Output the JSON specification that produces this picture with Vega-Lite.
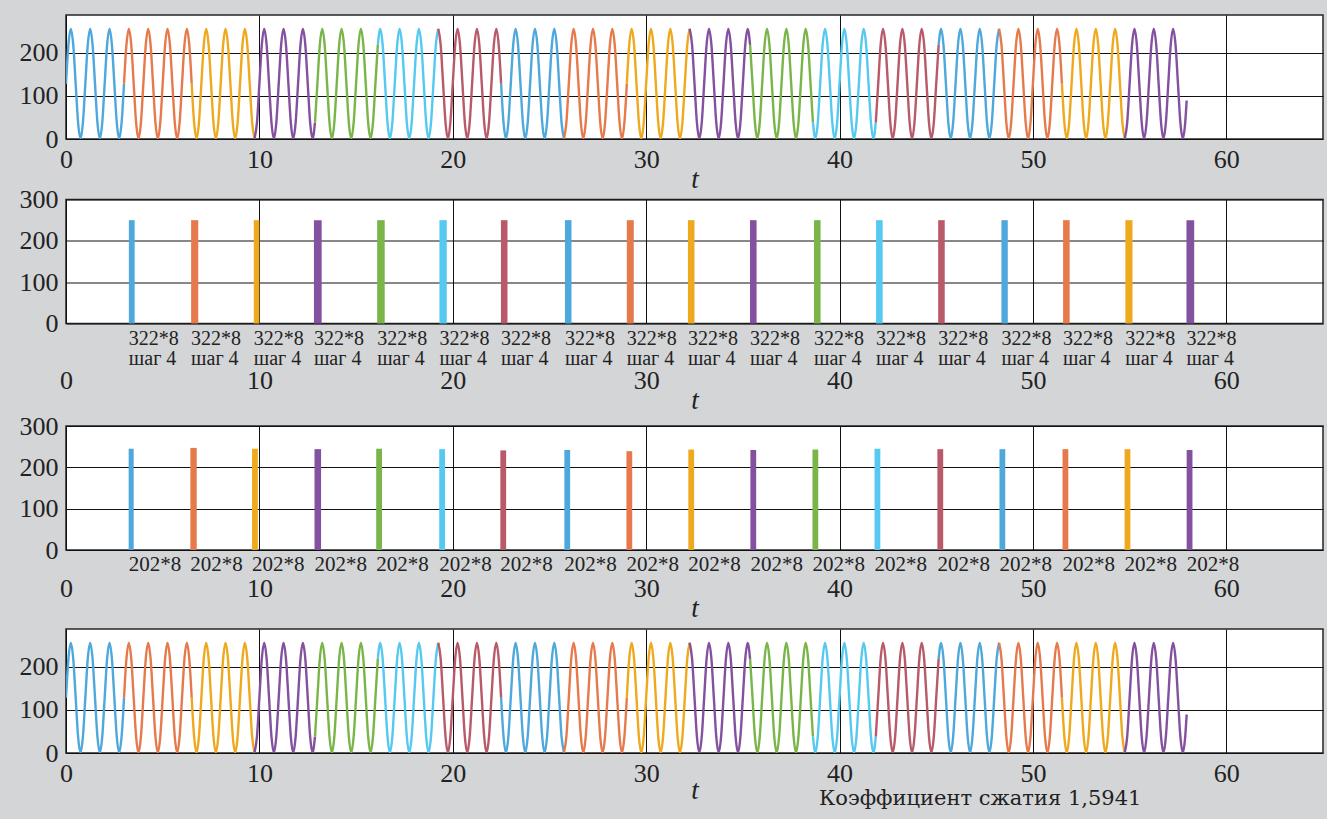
{
"$schema": "https://vega.github.io/schema/vega-lite/v6.json",
"background": "#d4d5d7",
"padding": {"left": 18, "top": 14, "right": 5, "bottom": 16},
"config": {
 "view": {"fill": "white", "stroke": "#262626", "strokeWidth": 1.5},
 "font": "Liberation Serif",
 "axis": {"grid": true, "gridColor": "#111111", "gridWidth": 1, "gridOpacity": 1, "ticks": false, "domain": false,
  "labelFont": "Liberation Serif", "labelFontSize": 26, "labelColor": "#222222", "labelFlush": false, "labelOverlap": false,
  "titleFont": "Liberation Serif", "titleFontStyle": "italic", "titleFontWeight": "normal", "titleFontSize": 27, "titleColor": "#222222"}
},
"datasets": {
 "sig": [
{"t":0,"v":128,"s":0},{"t":0.125,"v":218,"s":0},{"t":0.25,"v":255,"s":0},{"t":0.375,"v":218,"s":0},{"t":0.5,"v":128,"s":0},{"t":0.625,"v":38,"s":0},{"t":0.75,"v":1,"s":0},{"t":0.875,"v":38,"s":0},
{"t":1,"v":128,"s":0},{"t":1.125,"v":218,"s":0},{"t":1.25,"v":255,"s":0},{"t":1.375,"v":218,"s":0},{"t":1.5,"v":128,"s":0},{"t":1.625,"v":38,"s":0},{"t":1.75,"v":1,"s":0},{"t":1.875,"v":38,"s":0},
{"t":2,"v":128,"s":0},{"t":2.125,"v":218,"s":0},{"t":2.25,"v":255,"s":0},{"t":2.375,"v":218,"s":0},{"t":2.5,"v":128,"s":0},{"t":2.625,"v":38,"s":0},{"t":2.75,"v":1,"s":0},{"t":2.875,"v":38,"s":0},
{"t":3,"v":128,"s":0},
{"t":3,"v":128,"s":1},{"t":3.125,"v":218,"s":1},{"t":3.25,"v":255,"s":1},{"t":3.375,"v":218,"s":1},{"t":3.5,"v":128,"s":1},{"t":3.625,"v":38,"s":1},{"t":3.75,"v":1,"s":1},{"t":3.875,"v":38,"s":1},
{"t":4,"v":128,"s":1},{"t":4.125,"v":218,"s":1},{"t":4.25,"v":255,"s":1},{"t":4.375,"v":218,"s":1},{"t":4.5,"v":128,"s":1},{"t":4.625,"v":38,"s":1},{"t":4.75,"v":1,"s":1},{"t":4.875,"v":38,"s":1},
{"t":5,"v":128,"s":1},{"t":5.125,"v":218,"s":1},{"t":5.25,"v":255,"s":1},{"t":5.375,"v":218,"s":1},{"t":5.5,"v":128,"s":1},{"t":5.625,"v":38,"s":1},{"t":5.75,"v":1,"s":1},{"t":5.875,"v":38,"s":1},
{"t":6,"v":128,"s":1},{"t":6.125,"v":218,"s":1},{"t":6.25,"v":255,"s":1},{"t":6.375,"v":218,"s":1},{"t":6.5,"v":128,"s":1},
{"t":6.5,"v":128,"s":2},{"t":6.625,"v":38,"s":2},{"t":6.75,"v":1,"s":2},{"t":6.875,"v":38,"s":2},
{"t":7,"v":128,"s":2},{"t":7.125,"v":218,"s":2},{"t":7.25,"v":255,"s":2},{"t":7.375,"v":218,"s":2},{"t":7.5,"v":128,"s":2},{"t":7.625,"v":38,"s":2},{"t":7.75,"v":1,"s":2},{"t":7.875,"v":38,"s":2},
{"t":8,"v":128,"s":2},{"t":8.125,"v":218,"s":2},{"t":8.25,"v":255,"s":2},{"t":8.375,"v":218,"s":2},{"t":8.5,"v":128,"s":2},{"t":8.625,"v":38,"s":2},{"t":8.75,"v":1,"s":2},{"t":8.875,"v":38,"s":2},
{"t":9,"v":128,"s":2},{"t":9.125,"v":218,"s":2},{"t":9.25,"v":255,"s":2},{"t":9.375,"v":218,"s":2},{"t":9.5,"v":128,"s":2},{"t":9.625,"v":38,"s":2},{"t":9.75,"v":1,"s":2},
{"t":9.75,"v":1,"s":3},{"t":9.875,"v":38,"s":3},
{"t":10,"v":128,"s":3},{"t":10.125,"v":218,"s":3},{"t":10.25,"v":255,"s":3},{"t":10.375,"v":218,"s":3},{"t":10.5,"v":128,"s":3},{"t":10.625,"v":38,"s":3},{"t":10.75,"v":1,"s":3},{"t":10.875,"v":38,"s":3},
{"t":11,"v":128,"s":3},{"t":11.125,"v":218,"s":3},{"t":11.25,"v":255,"s":3},{"t":11.375,"v":218,"s":3},{"t":11.5,"v":128,"s":3},{"t":11.625,"v":38,"s":3},{"t":11.75,"v":1,"s":3},{"t":11.875,"v":38,"s":3},
{"t":12,"v":128,"s":3},{"t":12.125,"v":218,"s":3},{"t":12.25,"v":255,"s":3},{"t":12.375,"v":218,"s":3},{"t":12.5,"v":128,"s":3},{"t":12.625,"v":38,"s":3},{"t":12.75,"v":1,"s":3},{"t":12.875,"v":38,"s":3},
{"t":12.875,"v":38,"s":4},
{"t":13,"v":128,"s":4},{"t":13.125,"v":218,"s":4},{"t":13.25,"v":255,"s":4},{"t":13.375,"v":218,"s":4},{"t":13.5,"v":128,"s":4},{"t":13.625,"v":38,"s":4},{"t":13.75,"v":1,"s":4},{"t":13.875,"v":38,"s":4},
{"t":14,"v":128,"s":4},{"t":14.125,"v":218,"s":4},{"t":14.25,"v":255,"s":4},{"t":14.375,"v":218,"s":4},{"t":14.5,"v":128,"s":4},{"t":14.625,"v":38,"s":4},{"t":14.75,"v":1,"s":4},{"t":14.875,"v":38,"s":4},
{"t":15,"v":128,"s":4},{"t":15.125,"v":218,"s":4},{"t":15.25,"v":255,"s":4},{"t":15.375,"v":218,"s":4},{"t":15.5,"v":128,"s":4},{"t":15.625,"v":38,"s":4},{"t":15.75,"v":1,"s":4},{"t":15.875,"v":38,"s":4},
{"t":16,"v":128,"s":4},{"t":16.125,"v":218,"s":4},
{"t":16.125,"v":218,"s":5},{"t":16.25,"v":255,"s":5},{"t":16.375,"v":218,"s":5},{"t":16.5,"v":128,"s":5},{"t":16.625,"v":38,"s":5},{"t":16.75,"v":1,"s":5},{"t":16.875,"v":38,"s":5},
{"t":17,"v":128,"s":5},{"t":17.125,"v":218,"s":5},{"t":17.25,"v":255,"s":5},{"t":17.375,"v":218,"s":5},{"t":17.5,"v":128,"s":5},{"t":17.625,"v":38,"s":5},{"t":17.75,"v":1,"s":5},{"t":17.875,"v":38,"s":5},
{"t":18,"v":128,"s":5},{"t":18.125,"v":218,"s":5},{"t":18.25,"v":255,"s":5},{"t":18.375,"v":218,"s":5},{"t":18.5,"v":128,"s":5},{"t":18.625,"v":38,"s":5},{"t":18.75,"v":1,"s":5},{"t":18.875,"v":38,"s":5},
{"t":19,"v":128,"s":5},{"t":19.125,"v":218,"s":5},{"t":19.25,"v":255,"s":5},
{"t":19.25,"v":255,"s":6},{"t":19.375,"v":218,"s":6},{"t":19.5,"v":128,"s":6},{"t":19.625,"v":38,"s":6},{"t":19.75,"v":1,"s":6},{"t":19.875,"v":38,"s":6},
{"t":20,"v":128,"s":6},{"t":20.125,"v":218,"s":6},{"t":20.25,"v":255,"s":6},{"t":20.375,"v":218,"s":6},{"t":20.5,"v":128,"s":6},{"t":20.625,"v":38,"s":6},{"t":20.75,"v":1,"s":6},{"t":20.875,"v":38,"s":6},
{"t":21,"v":128,"s":6},{"t":21.125,"v":218,"s":6},{"t":21.25,"v":255,"s":6},{"t":21.375,"v":218,"s":6},{"t":21.5,"v":128,"s":6},{"t":21.625,"v":38,"s":6},{"t":21.75,"v":1,"s":6},{"t":21.875,"v":38,"s":6},
{"t":22,"v":128,"s":6},{"t":22.125,"v":218,"s":6},{"t":22.25,"v":255,"s":6},{"t":22.375,"v":218,"s":6},{"t":22.5,"v":128,"s":6},
{"t":22.5,"v":128,"s":7},{"t":22.625,"v":38,"s":7},{"t":22.75,"v":1,"s":7},{"t":22.875,"v":38,"s":7},
{"t":23,"v":128,"s":7},{"t":23.125,"v":218,"s":7},{"t":23.25,"v":255,"s":7},{"t":23.375,"v":218,"s":7},{"t":23.5,"v":128,"s":7},{"t":23.625,"v":38,"s":7},{"t":23.75,"v":1,"s":7},{"t":23.875,"v":38,"s":7},
{"t":24,"v":128,"s":7},{"t":24.125,"v":218,"s":7},{"t":24.25,"v":255,"s":7},{"t":24.375,"v":218,"s":7},{"t":24.5,"v":128,"s":7},{"t":24.625,"v":38,"s":7},{"t":24.75,"v":1,"s":7},{"t":24.875,"v":38,"s":7},
{"t":25,"v":128,"s":7},{"t":25.125,"v":218,"s":7},{"t":25.25,"v":255,"s":7},{"t":25.375,"v":218,"s":7},{"t":25.5,"v":128,"s":7},{"t":25.625,"v":38,"s":7},{"t":25.75,"v":1,"s":7},
{"t":25.75,"v":1,"s":8},{"t":25.875,"v":38,"s":8},
{"t":26,"v":128,"s":8},{"t":26.125,"v":218,"s":8},{"t":26.25,"v":255,"s":8},{"t":26.375,"v":218,"s":8},{"t":26.5,"v":128,"s":8},{"t":26.625,"v":38,"s":8},{"t":26.75,"v":1,"s":8},{"t":26.875,"v":38,"s":8},
{"t":27,"v":128,"s":8},{"t":27.125,"v":218,"s":8},{"t":27.25,"v":255,"s":8},{"t":27.375,"v":218,"s":8},{"t":27.5,"v":128,"s":8},{"t":27.625,"v":38,"s":8},{"t":27.75,"v":1,"s":8},{"t":27.875,"v":38,"s":8},
{"t":28,"v":128,"s":8},{"t":28.125,"v":218,"s":8},{"t":28.25,"v":255,"s":8},{"t":28.375,"v":218,"s":8},{"t":28.5,"v":128,"s":8},{"t":28.625,"v":38,"s":8},{"t":28.75,"v":1,"s":8},{"t":28.875,"v":38,"s":8},
{"t":29,"v":128,"s":8},
{"t":29,"v":128,"s":9},{"t":29.125,"v":218,"s":9},{"t":29.25,"v":255,"s":9},{"t":29.375,"v":218,"s":9},{"t":29.5,"v":128,"s":9},{"t":29.625,"v":38,"s":9},{"t":29.75,"v":1,"s":9},{"t":29.875,"v":38,"s":9},
{"t":30,"v":128,"s":9},{"t":30.125,"v":218,"s":9},{"t":30.25,"v":255,"s":9},{"t":30.375,"v":218,"s":9},{"t":30.5,"v":128,"s":9},{"t":30.625,"v":38,"s":9},{"t":30.75,"v":1,"s":9},{"t":30.875,"v":38,"s":9},
{"t":31,"v":128,"s":9},{"t":31.125,"v":218,"s":9},{"t":31.25,"v":255,"s":9},{"t":31.375,"v":218,"s":9},{"t":31.5,"v":128,"s":9},{"t":31.625,"v":38,"s":9},{"t":31.75,"v":1,"s":9},{"t":31.875,"v":38,"s":9},
{"t":32,"v":128,"s":9},{"t":32.125,"v":218,"s":9},{"t":32.25,"v":255,"s":9},
{"t":32.25,"v":255,"s":10},{"t":32.375,"v":218,"s":10},{"t":32.5,"v":128,"s":10},{"t":32.625,"v":38,"s":10},{"t":32.75,"v":1,"s":10},{"t":32.875,"v":38,"s":10},
{"t":33,"v":128,"s":10},{"t":33.125,"v":218,"s":10},{"t":33.25,"v":255,"s":10},{"t":33.375,"v":218,"s":10},{"t":33.5,"v":128,"s":10},{"t":33.625,"v":38,"s":10},{"t":33.75,"v":1,"s":10},{"t":33.875,"v":38,"s":10},
{"t":34,"v":128,"s":10},{"t":34.125,"v":218,"s":10},{"t":34.25,"v":255,"s":10},{"t":34.375,"v":218,"s":10},{"t":34.5,"v":128,"s":10},{"t":34.625,"v":38,"s":10},{"t":34.75,"v":1,"s":10},{"t":34.875,"v":38,"s":10},
{"t":35,"v":128,"s":10},{"t":35.125,"v":218,"s":10},{"t":35.25,"v":255,"s":10},{"t":35.375,"v":218,"s":10},
{"t":35.375,"v":218,"s":11},{"t":35.5,"v":128,"s":11},{"t":35.625,"v":38,"s":11},{"t":35.75,"v":1,"s":11},{"t":35.875,"v":38,"s":11},
{"t":36,"v":128,"s":11},{"t":36.125,"v":218,"s":11},{"t":36.25,"v":255,"s":11},{"t":36.375,"v":218,"s":11},{"t":36.5,"v":128,"s":11},{"t":36.625,"v":38,"s":11},{"t":36.75,"v":1,"s":11},{"t":36.875,"v":38,"s":11},
{"t":37,"v":128,"s":11},{"t":37.125,"v":218,"s":11},{"t":37.25,"v":255,"s":11},{"t":37.375,"v":218,"s":11},{"t":37.5,"v":128,"s":11},{"t":37.625,"v":38,"s":11},{"t":37.75,"v":1,"s":11},{"t":37.875,"v":38,"s":11},
{"t":38,"v":128,"s":11},{"t":38.125,"v":218,"s":11},{"t":38.25,"v":255,"s":11},{"t":38.375,"v":218,"s":11},{"t":38.5,"v":128,"s":11},{"t":38.625,"v":38,"s":11},
{"t":38.625,"v":38,"s":12},{"t":38.75,"v":1,"s":12},{"t":38.875,"v":38,"s":12},
{"t":39,"v":128,"s":12},{"t":39.125,"v":218,"s":12},{"t":39.25,"v":255,"s":12},{"t":39.375,"v":218,"s":12},{"t":39.5,"v":128,"s":12},{"t":39.625,"v":38,"s":12},{"t":39.75,"v":1,"s":12},{"t":39.875,"v":38,"s":12},
{"t":40,"v":128,"s":12},{"t":40.125,"v":218,"s":12},{"t":40.25,"v":255,"s":12},{"t":40.375,"v":218,"s":12},{"t":40.5,"v":128,"s":12},{"t":40.625,"v":38,"s":12},{"t":40.75,"v":1,"s":12},{"t":40.875,"v":38,"s":12},
{"t":41,"v":128,"s":12},{"t":41.125,"v":218,"s":12},{"t":41.25,"v":255,"s":12},{"t":41.375,"v":218,"s":12},{"t":41.5,"v":128,"s":12},{"t":41.625,"v":38,"s":12},{"t":41.75,"v":1,"s":12},{"t":41.875,"v":38,"s":12},
{"t":41.875,"v":38,"s":13},
{"t":42,"v":128,"s":13},{"t":42.125,"v":218,"s":13},{"t":42.25,"v":255,"s":13},{"t":42.375,"v":218,"s":13},{"t":42.5,"v":128,"s":13},{"t":42.625,"v":38,"s":13},{"t":42.75,"v":1,"s":13},{"t":42.875,"v":38,"s":13},
{"t":43,"v":128,"s":13},{"t":43.125,"v":218,"s":13},{"t":43.25,"v":255,"s":13},{"t":43.375,"v":218,"s":13},{"t":43.5,"v":128,"s":13},{"t":43.625,"v":38,"s":13},{"t":43.75,"v":1,"s":13},{"t":43.875,"v":38,"s":13},
{"t":44,"v":128,"s":13},{"t":44.125,"v":218,"s":13},{"t":44.25,"v":255,"s":13},{"t":44.375,"v":218,"s":13},{"t":44.5,"v":128,"s":13},{"t":44.625,"v":38,"s":13},{"t":44.75,"v":1,"s":13},{"t":44.875,"v":38,"s":13},
{"t":45,"v":128,"s":13},{"t":45.125,"v":218,"s":13},
{"t":45.125,"v":218,"s":14},{"t":45.25,"v":255,"s":14},{"t":45.375,"v":218,"s":14},{"t":45.5,"v":128,"s":14},{"t":45.625,"v":38,"s":14},{"t":45.75,"v":1,"s":14},{"t":45.875,"v":38,"s":14},
{"t":46,"v":128,"s":14},{"t":46.125,"v":218,"s":14},{"t":46.25,"v":255,"s":14},{"t":46.375,"v":218,"s":14},{"t":46.5,"v":128,"s":14},{"t":46.625,"v":38,"s":14},{"t":46.75,"v":1,"s":14},{"t":46.875,"v":38,"s":14},
{"t":47,"v":128,"s":14},{"t":47.125,"v":218,"s":14},{"t":47.25,"v":255,"s":14},{"t":47.375,"v":218,"s":14},{"t":47.5,"v":128,"s":14},{"t":47.625,"v":38,"s":14},{"t":47.75,"v":1,"s":14},{"t":47.875,"v":38,"s":14},
{"t":48,"v":128,"s":14},{"t":48.125,"v":218,"s":14},{"t":48.25,"v":255,"s":14},
{"t":48.25,"v":255,"s":15},{"t":48.375,"v":218,"s":15},{"t":48.5,"v":128,"s":15},{"t":48.625,"v":38,"s":15},{"t":48.75,"v":1,"s":15},{"t":48.875,"v":38,"s":15},
{"t":49,"v":128,"s":15},{"t":49.125,"v":218,"s":15},{"t":49.25,"v":255,"s":15},{"t":49.375,"v":218,"s":15},{"t":49.5,"v":128,"s":15},{"t":49.625,"v":38,"s":15},{"t":49.75,"v":1,"s":15},{"t":49.875,"v":38,"s":15},
{"t":50,"v":128,"s":15},{"t":50.125,"v":218,"s":15},{"t":50.25,"v":255,"s":15},{"t":50.375,"v":218,"s":15},{"t":50.5,"v":128,"s":15},{"t":50.625,"v":38,"s":15},{"t":50.75,"v":1,"s":15},{"t":50.875,"v":38,"s":15},
{"t":51,"v":128,"s":15},{"t":51.125,"v":218,"s":15},{"t":51.25,"v":255,"s":15},{"t":51.375,"v":218,"s":15},{"t":51.5,"v":128,"s":15},
{"t":51.5,"v":128,"s":16},{"t":51.625,"v":38,"s":16},{"t":51.75,"v":1,"s":16},{"t":51.875,"v":38,"s":16},
{"t":52,"v":128,"s":16},{"t":52.125,"v":218,"s":16},{"t":52.25,"v":255,"s":16},{"t":52.375,"v":218,"s":16},{"t":52.5,"v":128,"s":16},{"t":52.625,"v":38,"s":16},{"t":52.75,"v":1,"s":16},{"t":52.875,"v":38,"s":16},
{"t":53,"v":128,"s":16},{"t":53.125,"v":218,"s":16},{"t":53.25,"v":255,"s":16},{"t":53.375,"v":218,"s":16},{"t":53.5,"v":128,"s":16},{"t":53.625,"v":38,"s":16},{"t":53.75,"v":1,"s":16},{"t":53.875,"v":38,"s":16},
{"t":54,"v":128,"s":16},{"t":54.125,"v":218,"s":16},{"t":54.25,"v":255,"s":16},{"t":54.375,"v":218,"s":16},{"t":54.5,"v":128,"s":16},{"t":54.625,"v":38,"s":16},{"t":54.75,"v":1,"s":16},
{"t":54.75,"v":1,"s":17},{"t":54.875,"v":38,"s":17},
{"t":55,"v":128,"s":17},{"t":55.125,"v":218,"s":17},{"t":55.25,"v":255,"s":17},{"t":55.375,"v":218,"s":17},{"t":55.5,"v":128,"s":17},{"t":55.625,"v":38,"s":17},{"t":55.75,"v":1,"s":17},{"t":55.875,"v":38,"s":17},
{"t":56,"v":128,"s":17},{"t":56.125,"v":218,"s":17},{"t":56.25,"v":255,"s":17},{"t":56.375,"v":218,"s":17},{"t":56.5,"v":128,"s":17},{"t":56.625,"v":38,"s":17},{"t":56.75,"v":1,"s":17},{"t":56.875,"v":38,"s":17},
{"t":57,"v":128,"s":17},{"t":57.125,"v":218,"s":17},{"t":57.25,"v":255,"s":17},{"t":57.375,"v":218,"s":17},{"t":57.5,"v":128,"s":17},{"t":57.625,"v":38,"s":17},{"t":57.75,"v":1,"s":17},{"t":57.875,"v":38,"s":17},
{"t":57.95,"v":89,"s":17}
 ],
 "b2": [
{"s":0,"t0":3.25,"t1":3.55,"top":250},{"s":1,"t0":6.47,"t1":6.84,"top":250},{"s":2,"t0":9.71,"t1":10.0,"top":250},
{"s":3,"t0":12.82,"t1":13.22,"top":250},{"s":4,"t0":16.09,"t1":16.48,"top":250},{"s":5,"t0":19.31,"t1":19.69,"top":250},
{"s":6,"t0":22.49,"t1":22.83,"top":250},{"s":7,"t0":25.8,"t1":26.14,"top":250},{"s":8,"t0":29.0,"t1":29.36,"top":250},
{"s":9,"t0":32.16,"t1":32.5,"top":250},{"s":10,"t0":35.37,"t1":35.71,"top":250},{"s":11,"t0":38.68,"t1":39.02,"top":250},
{"s":12,"t0":41.89,"t1":42.23,"top":250},{"s":13,"t0":45.1,"t1":45.44,"top":250},{"s":14,"t0":48.37,"t1":48.7,"top":250},
{"s":15,"t0":51.56,"t1":51.9,"top":250},{"s":16,"t0":54.78,"t1":55.15,"top":250},{"s":17,"t0":57.94,"t1":58.34,"top":250}
 ],
 "b3": [
{"s":0,"t0":3.24,"t1":3.5,"top":245},{"s":1,"t0":6.43,"t1":6.76,"top":247},{"s":2,"t0":9.62,"t1":9.92,"top":245},
{"s":3,"t0":12.85,"t1":13.19,"top":244},{"s":4,"t0":16.04,"t1":16.34,"top":245},{"s":5,"t0":19.3,"t1":19.6,"top":244},
{"s":6,"t0":22.46,"t1":22.76,"top":241},{"s":7,"t0":25.77,"t1":26.07,"top":242},{"s":8,"t0":28.98,"t1":29.28,"top":239},
{"s":9,"t0":32.18,"t1":32.48,"top":243},{"s":10,"t0":35.39,"t1":35.69,"top":242},{"s":11,"t0":38.6,"t1":38.9,"top":243},
{"s":12,"t0":41.81,"t1":42.11,"top":245},{"s":13,"t0":45.06,"t1":45.36,"top":244},{"s":14,"t0":48.27,"t1":48.57,"top":244},
{"s":15,"t0":51.53,"t1":51.83,"top":244},{"s":16,"t0":54.74,"t1":55.04,"top":244},{"s":17,"t0":57.95,"t1":58.25,"top":242}
 ]
},
"spacing": 60.5,
"bounds": "flush",
"vconcat": [
 {
  "width": 1257, "height": 124,
  "data": {"name": "sig"},
  "mark": {"type": "line", "interpolate": "monotone", "strokeWidth": 2.4, "clip": true},
  "encoding": {
   "x": {"field": "t", "type": "quantitative", "scale": {"domain": [0, 65], "nice": false},
     "axis": {"values": [0,10,20,30,40,50,60], "title": "t", "labelPadding": 7, "titlePadding": -6}},
   "y": {"field": "v", "type": "quantitative", "scale": {"domain": [0, 287], "nice": false},
     "axis": {"values": [0,100,200], "title": null, "labelPadding": 8}},
   "color": {"field": "s", "type": "nominal", "legend": null,
     "scale": {"domain": [0,1,2,3,4,5,6,7,8,9,10,11,12,13,14,15,16,17],
       "range": ["#4fa8dc","#e67a4d","#efa91f","#8450a0","#7ab54a","#55c9f0","#b85a6a","#4fa8dc","#e67a4d","#efa91f","#8450a0","#7ab54a","#55c9f0","#b85a6a","#4fa8dc","#e67a4d","#efa91f","#8450a0"]}},
   "detail": {"field": "s", "type": "nominal"}
  }
 },
 {
  "spacing": 102.5,
  "bounds": "flush",
  "vconcat": [
   {
    "width": 1257, "height": 124,
    "layer": [
     {
      "data": {"name": "b2"},
      "mark": {"type": "rect"},
      "encoding": {
       "x": {"field": "t0", "type": "quantitative", "scale": {"domain": [0, 65], "nice": false},
         "axis": {"values": [0,10,20,30,40,50,60], "title": "t", "labelPadding": 44, "titlePadding": -6}},
       "x2": {"field": "t1"},
       "y": {"field": "top", "type": "quantitative", "scale": {"domain": [0, 300], "nice": false},
         "axis": {"values": [0,100,200,300], "title": null, "labelPadding": 8}},
       "y2": {"datum": 0},
       "color": {"field": "s", "type": "nominal", "legend": null,
         "scale": {"domain": [0,1,2,3,4,5,6,7,8,9,10,11,12,13,14,15,16,17],
           "range": ["#4fa8dc","#e67a4d","#efa91f","#8450a0","#7ab54a","#55c9f0","#b85a6a","#4fa8dc","#e67a4d","#efa91f","#8450a0","#7ab54a","#55c9f0","#b85a6a","#4fa8dc","#e67a4d","#efa91f","#8450a0"]}}
      }
     },
     {
      "data": {"name": "b2"},
      "mark": {"type": "text", "text": ["322*8", "шаг 4"], "align": "left", "baseline": "top", "dy": 5, "fontSize": 20, "lineHeight": 20, "color": "#222222", "font": "Liberation Serif"},
      "encoding": {
       "x": {"field": "t0", "type": "quantitative"},
       "y": {"datum": 0}
      }
     }
    ]
   },
   {
    "spacing": 79,
    "bounds": "flush",
    "vconcat": [
     {
      "width": 1257, "height": 124,
      "layer": [
       {
        "data": {"name": "b3"},
        "mark": {"type": "rect"},
        "encoding": {
         "x": {"field": "t0", "type": "quantitative", "scale": {"domain": [0, 65], "nice": false},
           "axis": {"values": [0,10,20,30,40,50,60], "title": "t", "labelPadding": 25, "titlePadding": -6}},
         "x2": {"field": "t1"},
         "y": {"field": "top", "type": "quantitative", "scale": {"domain": [0, 300], "nice": false},
           "axis": {"values": [0,100,200,300], "title": null, "labelPadding": 8}},
         "y2": {"datum": 0},
         "color": {"field": "s", "type": "nominal", "legend": null,
           "scale": {"domain": [0,1,2,3,4,5,6,7,8,9,10,11,12,13,14,15,16,17],
             "range": ["#4fa8dc","#e67a4d","#efa91f","#8450a0","#7ab54a","#55c9f0","#b85a6a","#4fa8dc","#e67a4d","#efa91f","#8450a0","#7ab54a","#55c9f0","#b85a6a","#4fa8dc","#e67a4d","#efa91f","#8450a0"]}}
        }
       },
       {
        "data": {"name": "b3"},
        "mark": {"type": "text", "text": "202*8", "align": "left", "baseline": "top", "dy": 4, "fontSize": 21, "color": "#222222", "font": "Liberation Serif"},
        "encoding": {
         "x": {"field": "t0", "type": "quantitative"},
         "y": {"datum": 0}
        }
       }
      ]
     },
     {
      "width": 1257, "height": 124,
      "title": {"text": "Коэффициент сжатия 1,5941", "orient": "bottom", "anchor": "start", "frame": "group", "dx": 753, "offset": -15, "font": "DejaVu Serif", "fontSize": 21, "fontWeight": "normal", "color": "#222222"},
      "data": {"name": "sig"},
      "mark": {"type": "line", "interpolate": "monotone", "strokeWidth": 2.4, "clip": true},
      "encoding": {
       "x": {"field": "t", "type": "quantitative", "scale": {"domain": [0, 65], "nice": false},
         "axis": {"values": [0,10,20,30,40,50,60], "title": "t", "labelPadding": 7, "titlePadding": -9}},
       "y": {"field": "v", "type": "quantitative", "scale": {"domain": [0, 287], "nice": false},
         "axis": {"values": [0,100,200], "title": null, "labelPadding": 8}},
       "color": {"field": "s", "type": "nominal", "legend": null,
         "scale": {"domain": [0,1,2,3,4,5,6,7,8,9,10,11,12,13,14,15,16,17],
           "range": ["#4fa8dc","#e67a4d","#efa91f","#8450a0","#7ab54a","#55c9f0","#b85a6a","#4fa8dc","#e67a4d","#efa91f","#8450a0","#7ab54a","#55c9f0","#b85a6a","#4fa8dc","#e67a4d","#efa91f","#8450a0"]}},
       "detail": {"field": "s", "type": "nominal"}
      }
     }
    ]
   }
  ]
 }
]
}
